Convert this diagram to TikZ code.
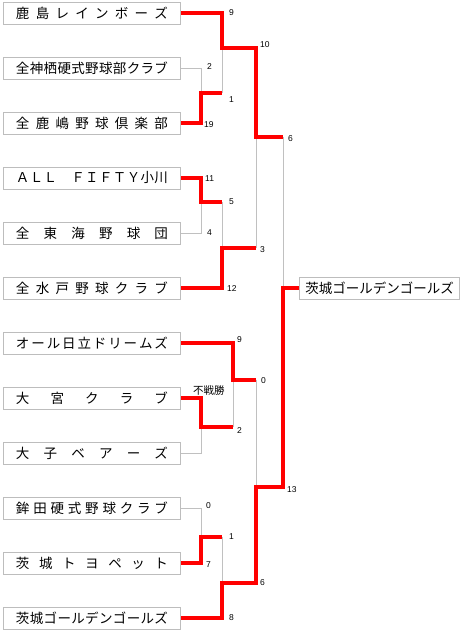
\documentclass[tikz,border=0pt]{standalone}
\usepackage{fontspec}
\usepackage{tikz}
\usetikzlibrary{calc}
\usepackage{xcolor}
\newfontfamily\jpfont{Noto Sans CJK JP}
\newfontfamily\numfont{Liberation Sans}
\definecolor{boxgray}{HTML}{BDBDBD}
\definecolor{linegray}{HTML}{C0C0C0}
\definecolor{winred}{HTML}{FF0000}

% spread the letters of a team name over the whole box
\newlength\namewd
\setlength\namewd{152pt}
\def\spreadloop#1#2{#1\ifx\relax#2\else\hfill\expandafter\spreadloop\expandafter#2\fi}
\newcommand\spreadname[1]{\makebox[\namewd][s]{\spreadloop#1\relax}}

\begin{document}
\begin{tikzpicture}[
    x=1pt, y=-1pt,
    team/.style={draw=boxgray, line width=1pt, anchor=west, minimum width=177pt,
        minimum height=22pt, inner sep=0pt, font=\jpfont\fontsize{13.5}{15}\selectfont},
    champ/.style={team, minimum width=160pt},
    score/.style={anchor=west, inner sep=0pt, font=\numfont\fontsize{8.5}{9}\selectfont},
    note/.style={anchor=west, inner sep=0pt, font=\jpfont\fontsize{10.5}{11}\selectfont},
    win/.style={draw=winred, line width=3.2pt},
    lose/.style={draw=linegray, line width=1pt}
]
\useasboundingbox (0,0) rectangle (470,635);

% teams
\node[team] (t1)  at (3,13)  {\spreadname{鹿島レインボーズ}};
\node[team] (t2)  at (3,68)  {\spreadname{全神栖硬式野球部クラブ}};
\node[team] (t3)  at (3,123) {\spreadname{全鹿嶋野球倶楽部}};
\node[team] (t4)  at (3,178) {\spreadname{ＡＬＬ　ＦＩＦＴＹ小川}};
\node[team] (t5)  at (3,233) {\spreadname{全東海野球団}};
\node[team] (t6)  at (3,288) {\spreadname{全水戸野球クラブ}};
\node[team] (t7)  at (3,343) {\spreadname{オール日立ドリームズ}};
\node[team] (t8)  at (3,398) {\spreadname{大宮クラブ}};
\node[team] (t9)  at (3,453) {\spreadname{大子ベアーズ}};
\node[team] (t10) at (3,508) {\spreadname{鉾田硬式野球クラブ}};
\node[team] (t11) at (3,563) {\spreadname{茨城トヨペット}};
\node[team] (t12) at (3,618) {\spreadname{茨城ゴールデンゴールズ}};
\node[champ] (champ) at (299,288) {茨城ゴールデンゴールズ};

% match points
\coordinate (m1)  at (201,93);
\coordinate (m2)  at (222,48);
\coordinate (m3)  at (201,202);
\coordinate (m4)  at (222,248);
\coordinate (m5)  at (256,137);
\coordinate (m6)  at (201,427);
\coordinate (m7)  at (233,380);
\coordinate (m8)  at (201,537);
\coordinate (m9)  at (222,583);
\coordinate (m10) at (256,487);
\coordinate (m11) at (283,288);

% losers
\draw[lose] (t2.east) -| (m1);
\draw[lose] (m1 -| m2) -- (m2);
\draw[lose] (t5.east) -| (m3);
\draw[lose] (m3 -| m4) -- (m4);
\draw[lose] (m4 -| m5) -- (m5);
\draw[lose] (m5 -| m11) -- (m11);
\draw[lose] (t9.east) -| (m6);
\draw[lose] (m6 -| m7) -- (m7);
\draw[lose] (m7 -| m10) -- (m10);
\draw[lose] (t10.east) -| (m8);
\draw[lose] (m8 -| m9) -- (m9);

% winners
\draw[win] (t3.east) -| (m1) -- (m1 -| m2);
\draw[win] (t1.east) -| (m2) -- (m2 -| m5) -- (m5) -- (m5 -| m11);
\draw[win] (t4.east) -| (m3) -- (m3 -| m4);
\draw[win] (t6.east) -| (m4) -- (m4 -| m5);
\draw[win] (t8.east) -| (m6) -- (m6 -| m7);
\draw[win] (t7.east) -| (m7) -- (m7 -| m10);
\draw[win] (t11.east) -| (m8) -- (m8 -| m9);
\draw[win] (t12.east) -| (m9) -- (m9 -| m10) -- (m10) -- (m10 -| m11) -- (m11) -- (champ.west);

% scores
\node[score] (s1)  at (229,13)  {9};
\node[score] (s2)  at (207,67)  {2};
\node[score] (s3)  at (204,125) {19};
\node[score] (s4)  at (229,100) {1};
\node[score] (s5)  at (260,45)  {10};
\node[score] (s6)  at (288,139) {6};
\node[score] (s7)  at (205,179) {11};
\node[score] (s8)  at (207,233) {4};
\node[score] (s9)  at (229,202) {5};
\node[score] (s10) at (227,289) {12};
\node[score] (s11) at (260,250) {3};
\node[score] (s12) at (237,340) {9};
\node[score] (s13) at (237,431) {2};
\node[score] (s14) at (261,381) {0};
\node[note]  (bye) at (193,391) {不戦勝};
\node[score] (s15) at (206,506) {0};
\node[score] (s16) at (206,565) {7};
\node[score] (s17) at (229,537) {1};
\node[score] (s18) at (229,618) {8};
\node[score] (s19) at (260,583) {6};
\node[score] (s20) at (287,490) {13};
\end{tikzpicture}
\end{document}
